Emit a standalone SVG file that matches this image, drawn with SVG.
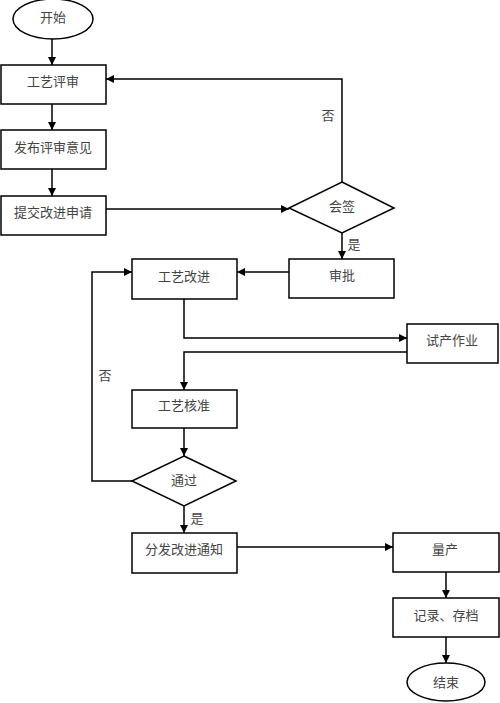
<svg xmlns="http://www.w3.org/2000/svg" width="500" height="703" viewBox="0 0 500 703">
<style>
.n{fill:#fff;stroke:#000;stroke-width:1.5}
.t{font-family:"Liberation Serif","Noto Sans CJK SC",serif;font-size:13px;fill:#444;text-anchor:middle;dominant-baseline:central}
.c{fill:none;stroke:#000;stroke-width:1.5}
</style>
<defs>
<marker id="a" viewBox="0 0 10 10" refX="10" refY="5" markerWidth="8" markerHeight="8" markerUnits="userSpaceOnUse" orient="auto">
<path d="M0,0L10,5L0,10z" fill="#000"/>
</marker>
</defs>
<rect width="500" height="703" fill="#fff"/>
<g id="connectors">
<path class="c" d="M52,39V65" marker-end="url(#a)"/>
<path class="c" d="M52,104V130" marker-end="url(#a)"/>
<path class="c" d="M52,169V196" marker-end="url(#a)"/>
<path class="c" d="M106,209H289" marker-end="url(#a)"/>
<path class="c" d="M342,182V79H106" marker-end="url(#a)"/>
<path class="c" d="M342,233V259" marker-end="url(#a)"/>
<path class="c" d="M289,272H237" marker-end="url(#a)"/>
<path class="c" d="M184,299V338H407" marker-end="url(#a)"/>
<path class="c" d="M407,352H184V390" marker-end="url(#a)"/>
<path class="c" d="M184,428V456" marker-end="url(#a)"/>
<path class="c" d="M132,481H92V272H132" marker-end="url(#a)"/>
<path class="c" d="M184,506V533" marker-end="url(#a)"/>
<path class="c" d="M237,547H393" marker-end="url(#a)"/>
<path class="c" d="M446,572V598" marker-end="url(#a)"/>
<path class="c" d="M446,637V663" marker-end="url(#a)"/>
<text class="t" x="328" y="115">否</text>
<text class="t" x="354" y="244">是</text>
<text class="t" x="105" y="375">否</text>
<text class="t" x="197" y="518">是</text>
</g>
<g id="start"><ellipse class="n" cx="53" cy="19" rx="40" ry="20"/><text class="t" x="53" y="17">开始</text></g>
<g id="review"><rect class="n" x="1" y="65" width="105" height="39"/><text class="t" x="53" y="81">工艺评审</text></g>
<g id="publish"><rect class="n" x="1" y="130" width="105" height="39"/><text class="t" x="53" y="147">发布评审意见</text></g>
<g id="submit"><rect class="n" x="1" y="196" width="105" height="39"/><text class="t" x="53" y="212">提交改进申请</text></g>
<g id="countersign"><polygon class="n" points="342,182 394,208 342,233 289,208"/><text class="t" x="342" y="206">会签</text></g>
<g id="approve"><rect class="n" x="289" y="259" width="105" height="39"/><text class="t" x="342" y="275">审批</text></g>
<g id="improve"><rect class="n" x="132" y="259" width="105" height="40"/><text class="t" x="184" y="276">工艺改进</text></g>
<g id="trial"><rect class="n" x="407" y="324" width="91" height="39"/><text class="t" x="452" y="340">试产作业</text></g>
<g id="verify"><rect class="n" x="132" y="390" width="105" height="38"/><text class="t" x="184" y="405">工艺核准</text></g>
<g id="pass"><polygon class="n" points="184,456 236,481 184,506 132,481"/><text class="t" x="184" y="480">通过</text></g>
<g id="notify"><rect class="n" x="132" y="533" width="105" height="40"/><text class="t" x="184" y="549">分发改进通知</text></g>
<g id="mass"><rect class="n" x="393" y="533" width="106" height="39"/><text class="t" x="445" y="549">量产</text></g>
<g id="record"><rect class="n" x="393" y="598" width="106" height="39"/><text class="t" x="446" y="615">记录、存档</text></g>
<g id="end"><ellipse class="n" cx="446" cy="682" rx="39" ry="19"/><text class="t" x="446" y="682">结束</text></g>
</svg>
